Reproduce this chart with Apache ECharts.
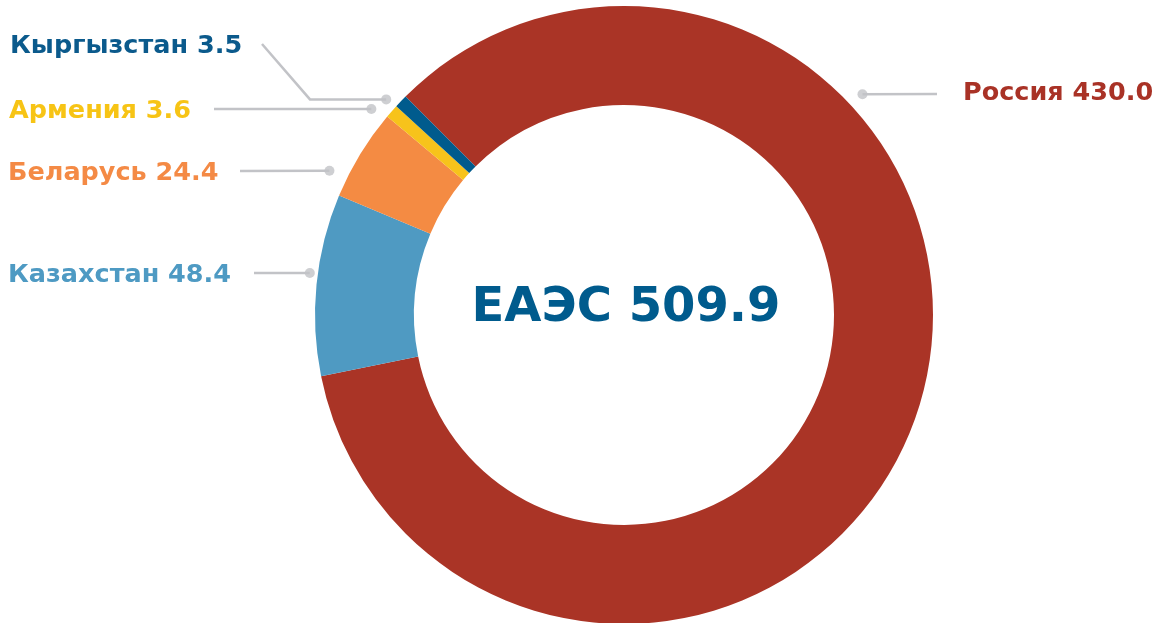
<!DOCTYPE html>
<html>
<head>
<meta charset="utf-8">
<script src="https://cdn.jsdelivr.net/npm/echarts@6/dist/echarts.min.js"></script>
<style>
html,body{margin:0;padding:0;background:#fff;}
#chart{width:1165px;height:623px;}
</style>
</head>
<body>
<div id="chart"></div>
<script>
// ---- data ----
var countries = ['Россия', 'Казахстан', 'Беларусь', 'Армения', 'Кыргызстан'];
var values = [430.0, 48.4, 24.4, 3.6, 3.5];
var totalLabel = 'ЕАЭС';

// ---- styles / layout ----
var sliceColors = ['#AA3426', '#4F9AC2', '#F48B43', '#F7C31B', '#005B8D'];
var labelColors = ['#A93226', '#4E9AC3', '#F48A45', '#F7C415', '#0B5A8C'];
var CX = 624, CY = 315, R_IN = 210, R_OUT = 309;
var FONT = '"DejaVu Sans", "Liberation Sans", Arial, sans-serif';
var lineColor = '#C2C3C7';
// leader anchor (dot) in polar terms: [radius px, angle deg ccw from east]
var dotPolar = [[325, 42.8], [317, 172.4], [328, 153.9], [326, 140.8], [321, 137.8]];
// label text anchor and line end
var labelLayoutCfg = [
  {x: 963, y: 93, align: 'left', lineEnd: [937, 94]},
  {x: 8, y: 275, align: 'left', lineEnd: [254, 273]},
  {x: 8, y: 173, align: 'left', lineEnd: [240, 171]},
  {x: 9, y: 111, align: 'left', lineEnd: [214, 109]},
  {x: 10, y: 46, align: 'left', elbow: 310, lineEnd: [262, 44]}
];

function dotXY(i) {
  var r = dotPolar[i][0], a = dotPolar[i][1] * Math.PI / 180;
  return [CX + r * Math.cos(a), CY - r * Math.sin(a)];
}

var total = values.reduce(function (s, v) { return s + v; }, 0);

var chart = echarts.init(document.getElementById('chart'), null, {renderer: 'canvas'});
chart.setOption({
  animation: false,
  backgroundColor: '#fff',
  polar: {center: [CX, CY], radius: 400},
  angleAxis: {type: 'value', min: 0, max: 360, startAngle: 0, clockwise: false, show: false},
  radiusAxis: {type: 'value', min: 0, max: 400, show: false},
  graphic: [{
    type: 'text',
    x: CX + 2, y: CY - 6,
    style: {
      text: totalLabel + ' ' + total.toFixed(1),
      fill: '#005B8D',
      font: 'bold 48px ' + FONT,
      align: 'center',
      verticalAlign: 'middle'
    }
  }],
  series: [{
    type: 'pie',
    center: [CX, CY],
    radius: [R_IN, R_OUT],
    startAngle: 135,
    clockwise: true,
    avoidLabelOverlap: false,
    silent: true,
    data: countries.map(function (n, i) {
      return {name: n, value: values[i], itemStyle: {color: sliceColors[i]},
              label: {color: labelColors[i]}};
    }),
    label: {
      show: true,
      position: 'outside',
      formatter: function (p) { return p.name + ' ' + p.value.toFixed(1); },
      fontFamily: FONT,
      fontWeight: 'bold',
      fontSize: 25.5
    },
    labelLine: {show: true, lineStyle: {color: lineColor, width: 2.5}},
    labelLayout: function (p) {
      var c = labelLayoutCfg[p.dataIndex];
      var d = dotXY(p.dataIndex);
      var pts = [d];
      if (c.elbow != null) pts.push([c.elbow, d[1]]);
      pts.push(c.lineEnd);
      return {x: c.x, y: c.y, align: c.align, verticalAlign: 'middle', labelLinePoints: pts};
    }
  }, {
    type: 'scatter',
    coordinateSystem: 'polar',
    symbol: 'circle',
    symbolSize: 10,
    silent: true,
    itemStyle: {color: lineColor},
    data: dotPolar.map(function (d) { return [d[0], d[1]]; }),
    z: 5
  }]
});
</script>
</body>
</html>
